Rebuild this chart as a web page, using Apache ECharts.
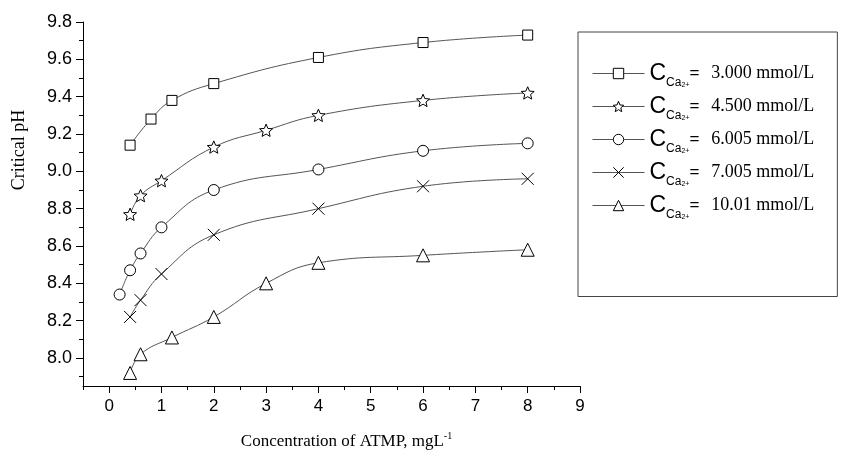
<!DOCTYPE html>
<html>
<head>
<meta charset="utf-8">
<script src="https://cdn.jsdelivr.net/npm/echarts@6/dist/echarts.min.js"></script>
<style>
html,body{margin:0;padding:0;background:#fff;}
#c{width:845px;height:466px;}
</style>
</head>
<body>
<div id="c"></div>
<script>
// ---- data ----
const seriesNames = ['3.000 mmol/L', '4.500 mmol/L', '6.005 mmol/L', '7.005 mmol/L', '10.01 mmol/L'];
const x1 = [0.4, 0.8, 1.2, 2, 4, 6, 8];
const y1 = [9.14, 9.28, 9.38, 9.47, 9.61, 9.69, 9.73];
const x2 = [0.4, 0.6, 1, 2, 3, 4, 6, 8];
const y2 = [8.77, 8.87, 8.95, 9.13, 9.22, 9.30, 9.38, 9.42];
const x3 = [0.2, 0.4, 0.6, 1, 2, 4, 6, 8];
const y3 = [8.34, 8.47, 8.56, 8.70, 8.90, 9.01, 9.11, 9.15];
const x4 = [0.4, 0.6, 1, 2, 4, 6, 8];
const y4 = [8.22, 8.31, 8.45, 8.66, 8.80, 8.92, 8.96];
const x5 = [0.4, 0.6, 1.2, 2, 3, 4, 6, 8];
const y5 = [7.92, 8.02, 8.11, 8.22, 8.40, 8.51, 8.55, 8.58];
const xTickLabels = [0, 1, 2, 3, 4, 5, 6, 7, 8, 9];
const xMinorTicks = [-0.5, 0.5, 1.5, 2.5, 3.5, 4.5, 5.5, 6.5, 7.5, 8.5];
const yTickLabels = [8.0, 8.2, 8.4, 8.6, 8.8, 9.0, 9.2, 9.4, 9.6, 9.8];
const yMinorTicks = [7.9, 8.1, 8.3, 8.5, 8.7, 8.9, 9.1, 9.3, 9.5, 9.7];

const STAR = 'path://M10,0L12.65,6.36L19.51,6.91L14.28,11.39L15.88,18.09L10,14.5L4.12,18.09L5.72,11.39L0.49,6.91L7.35,6.36Z';
const CROSS = 'path://M0,0L10,10M10,0L0,10';
const symbols = ['rect', STAR, 'circle', CROSS, 'triangle'];
const sizes = [10, 13, 11, 12, 13];
const xs = [x1, x2, x3, x4, x5];
const ys = [y1, y2, y3, y4, y5];

const sans = 'Liberation Sans, Arial, Helvetica, sans-serif';
const serif = 'Liberation Serif, Times New Roman, serif';

const series = seriesNames.map((n, i) => ({
  name: n,
  type: 'line',
  xAxisIndex: 0,
  yAxisIndex: 0,
  data: xs[i].map((x, j) => [x, ys[i][j]]),
  smooth: 0.45,
  symbol: symbols[i],
  symbolSize: sizes[i],
  symbolKeepAspect: true,
  showAllSymbol: true,
  lineStyle: { color: '#555', width: 1 },
  itemStyle: { color: '#fff', borderColor: '#000', borderWidth: 1 },
  emphasis: { disabled: true },
  z: 3
}));

const chart = echarts.init(document.getElementById('c'), null, { renderer: 'canvas' });
chart.setOption({
  animation: false,
  backgroundColor: '#fff',
  grid: { left: 83, right: 265, top: 22, bottom: 80, containLabel: false },
  xAxis: [{
    type: 'value', min: -0.5, max: 9,
    name: 'Concentration of ATMP, mgL{sup|-1}',
    nameLocation: 'middle', nameGap: 45,
    nameTextStyle: {
      fontFamily: serif, fontSize: 17, color: '#000', padding: [0, 0, 0, 30],
      rich: { sup: { fontFamily: serif, fontSize: 10, verticalAlign: 'top', lineHeight: 22, color: '#000' } }
    },
    axisLine: { show: true, onZero: false, lineStyle: { color: '#000', width: 1 } },
    axisTick: { show: true, inside: false, length: 7, customValues: xTickLabels, lineStyle: { color: '#000' } },
    axisLabel: { customValues: xTickLabels, fontFamily: sans, fontSize: 17, color: '#000', margin: 12 },
    splitLine: { show: false }
  }, {
    type: 'value', min: -0.5, max: 9, position: 'bottom',
    axisLine: { show: false, onZero: false },
    axisTick: { show: true, inside: false, length: 4, customValues: xMinorTicks, lineStyle: { color: '#000' } },
    axisLabel: { show: false },
    splitLine: { show: false }
  }],
  yAxis: [{
    type: 'value', min: 7.85, max: 9.8,
    name: 'Critical pH',
    nameLocation: 'middle', nameGap: 55, nameRotate: 90,
    nameTextStyle: { fontFamily: serif, fontSize: 18, color: '#000', padding: [0, 0, 0, 108] },
    axisLine: { show: true, onZero: false, lineStyle: { color: '#000', width: 1 } },
    axisTick: { show: true, inside: false, length: 7, customValues: yTickLabels, lineStyle: { color: '#000' } },
    axisLabel: { customValues: yTickLabels, formatter: v => Number(v).toFixed(1), fontFamily: sans, fontSize: 18, color: '#000', margin: 11 },
    splitLine: { show: false }
  }, {
    type: 'value', min: 7.85, max: 9.8, position: 'left', offset: 0,
    axisLine: { show: false, onZero: false },
    axisTick: { show: true, inside: false, length: 4, customValues: yMinorTicks, lineStyle: { color: '#000' } },
    axisLabel: { show: false },
    splitLine: { show: false }
  }],
  legend: {
    orient: 'vertical',
    left: 578, top: 32,
    padding: [30, 23, 76, 14],
    itemGap: 6.5,
    itemWidth: 52, itemHeight: 13,
    borderColor: '#444', borderWidth: 1,
    selectedMode: false,
    data: seriesNames,
    lineStyle: { width: 1, color: '#555' },
    itemStyle: { color: '#fff', borderColor: '#000', borderWidth: 1 },
    formatter: name => '{c|C}{sub|Ca}{sup|2+}{eq|=}{v|  ' + name + '}',
    textStyle: {
      color: '#000',
      rich: {
        c: { fontFamily: sans, fontSize: 23, lineHeight: 30, verticalAlign: 'middle', color: '#000' },
        sub: { fontFamily: sans, fontSize: 12, lineHeight: 6, verticalAlign: 'bottom', color: '#000' },
        sup: { fontFamily: sans, fontSize: 7, lineHeight: 20, verticalAlign: 'bottom', color: '#000' },
        eq: { fontFamily: sans, fontSize: 17, lineHeight: 30, verticalAlign: 'middle', color: '#000' },
        v: { fontFamily: serif, fontSize: 18, lineHeight: 30, verticalAlign: 'middle', color: '#000', padding: [0, 0, 0, 3] }
      }
    }
  },
  series: series
});
</script>
</body>
</html>
